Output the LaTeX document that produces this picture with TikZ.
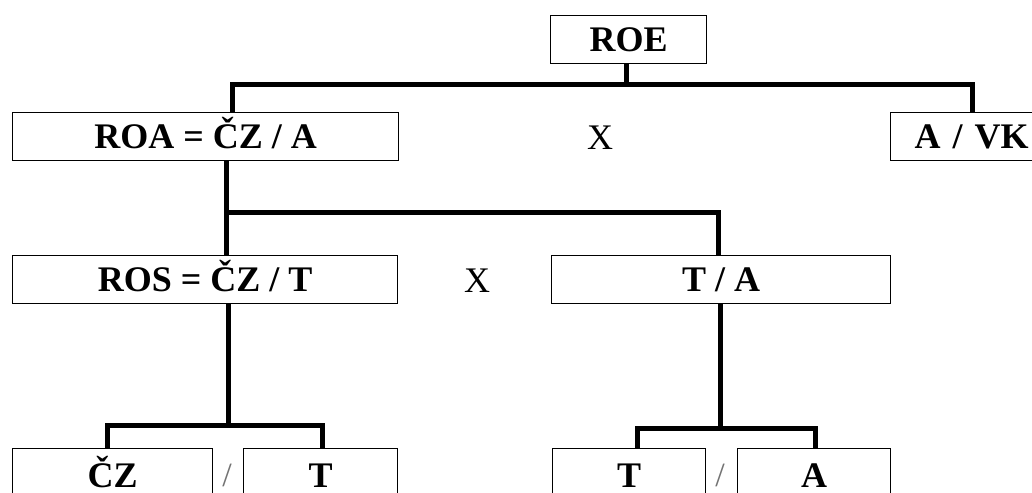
\documentclass[tikz,border=0pt]{standalone}
\usepackage{fontspec}
\setmainfont{Liberation Serif}
\begin{document}
\begin{tikzpicture}[x=1pt,y=-1pt,
  box/.style={draw, line width=1.4pt, inner sep=0pt, anchor=north west,
    text height=24pt, text depth=0pt,
    font=\fontsize{36}{40}\selectfont\bfseries},
  link/.style={line width=5pt},
  plain/.style={inner sep=0pt, text height=24pt, text depth=0pt, font=\fontsize{36}{40}\selectfont},
  sep/.style={inner sep=0pt, text=black!55, font=\fontsize{34}{40}\selectfont}]
\useasboundingbox (0,0) rectangle (1032,492);
\clip (0,0) rectangle (1032,492);
% boxes
\node[box, minimum width=156pt, minimum height=48pt] (roe) at (550,15) {ROE};
\node[box, minimum width=386pt, minimum height=48pt] (roa) at (12,112) {ROA = ČZ / A};
\node[box, minimum width=155pt, minimum height=48pt, align=left, text width=145pt] (avk) at (890,112) {\hspace*{19pt}A / VK};
\node[box, minimum width=385pt, minimum height=48pt] (ros) at (12,255) {ROS = ČZ / T};
\node[box, minimum width=339pt, minimum height=48pt] (ta) at (551,255) {T / A};
\node[box, minimum width=200pt, minimum height=54pt] (cz) at (12,448) {ČZ};
\node[box, minimum width=154pt, minimum height=54pt] (t1) at (243,448) {T};
\node[box, minimum width=153pt, minimum height=54pt] (t2) at (552,448) {T};
\node[box, minimum width=153pt, minimum height=54pt] (a2) at (737,448) {A};
% operators
\node[plain] (x1) at (600,137) {X};
\node[plain] (x2) at (477,280) {X};
\node[sep] (s1) at (227,475) {/};
\node[sep] (s2) at (720,475) {/};
% junctions
\coordinate (j1) at (626,85);
\coordinate (j2) at (226,212);
\coordinate (j3) at (228,425);
\coordinate (j4) at (720,428);
% connectors
\draw[link] (roe.south -| j1) -- (j1);
\draw[link] (roa.north -| 232,0) |- (j1) -| (avk.north -| 972,0);
\draw[link] (roa.south -| j2) -- (j2);
\draw[link] (ros.north -| j2) |- (j2) -| (ta.north -| 718,0);
\draw[link] (ros.south -| j3) -- (j3);
\draw[link] (cz.north -| 107,0) |- (j3) -| (t1.north -| 322,0);
\draw[link] (ta.south -| j4) -- (j4);
\draw[link] (t2.north -| 637,0) |- (j4) -| (a2.north -| 815,0);
\end{tikzpicture}
\end{document}
